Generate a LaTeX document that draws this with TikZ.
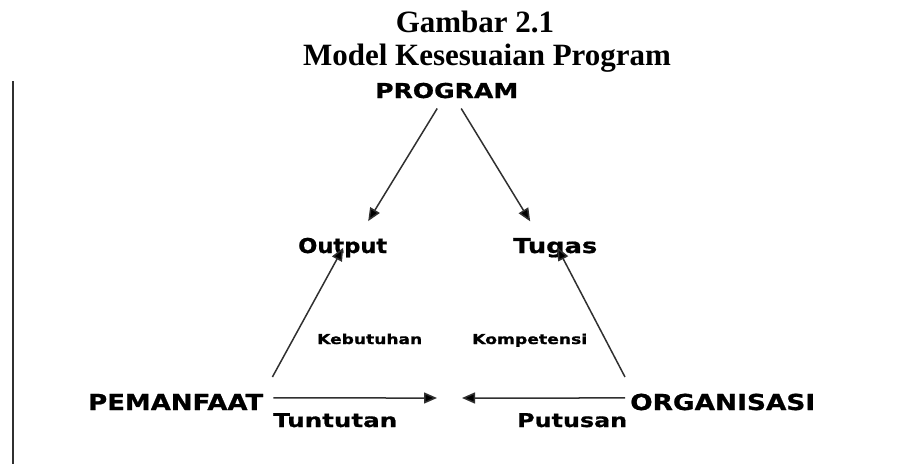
\documentclass[tikz,border=0pt]{standalone}
\usepackage{fontspec}
\usepackage{graphicx}
\setmainfont{Liberation Serif}
\newfontfamily\dvsans[BoldFeatures={FakeBold=0.8}]{DejaVu Sans}
\usetikzlibrary{arrows.meta,calc}
\definecolor{arrgray}{HTML}{303030}
\newcommand{\widelbl}[3]{\resizebox{#1pt}{\height}{\dvsans\bfseries\fontsize{#2}{#2}\selectfont #3}}
\begin{document}
\begin{tikzpicture}[x=1pt,y=-1pt,
  ttl/.style={inner sep=0pt, anchor=base, font=\bfseries\fontsize{31}{31}\selectfont},
  lab/.style={inner sep=0pt, anchor=base west, text=black},
  arr/.style={draw=arrgray, line width=1.5pt, -{Triangle[length=13pt,width=11pt,fill=black]}},
  vline/.style={draw=arrgray, line width=2.4pt}]
\useasboundingbox (0,0) rectangle (898,464);
% title
\node[ttl] (t1) at (475,32) {Gambar 2.1};
\node[ttl] (t2) at (487,65) {Model Kesesuaian Program};
% left margin rule
\coordinate (vtop) at (13,81);
\coordinate (vbot) at (13,464);
\draw[vline] (vtop) -- (vbot);
% nodes
\node[lab] (prog) at (375,98) {\widelbl{143}{20.5}{PROGRAM}};
\node[lab] (out)  at (298,253) {\widelbl{89}{20.5}{Output}};
\node[lab] (tug)  at (513,253) {\widelbl{84}{20.5}{Tugas}};
\node[lab] (keb)  at (317,344) {\widelbl{105}{13.7}{Kebutuhan}};
\node[lab] (kom)  at (472,344) {\widelbl{115}{13.7}{Kompetensi}};
\node[lab] (pem)  at (88,410)  {\widelbl{175}{22}{PEMANFAAT}};
\node[lab] (org)  at (630,410) {\widelbl{185}{22}{ORGANISASI}};
\node[lab] (tun)  at (273,427) {\widelbl{124}{19}{Tuntutan}};
\node[lab] (put)  at (517,427) {\widelbl{110}{19}{Putusan}};
% free ends of the horizontal arrows
\coordinate (midL) at (437,398);
\coordinate (midR) at (462,398);
% connectors
\draw[arr] ($(prog.south)+(-9.5,10)$) -- ($(out.north)+(25.5,-16.5)$);
\draw[arr] ($(prog.south)+(14.5,10)$) -- ($(tug.north)+(-25,-16.5)$);
\draw[arr] ($(pem.east)+(9,-25)$) -- ($(out.south)+(0.5,-9.7)$);
\draw[arr] ($(org.west)+(-5,-25)$) -- ($(tug.south)+(2,-10.3)$);
\draw[arr] ($(pem.east)+(10,-4)$) -- (midL);
\draw[arr] ($(org.west)+(-5,-4)$) -- (midR);
\end{tikzpicture}
\end{document}
